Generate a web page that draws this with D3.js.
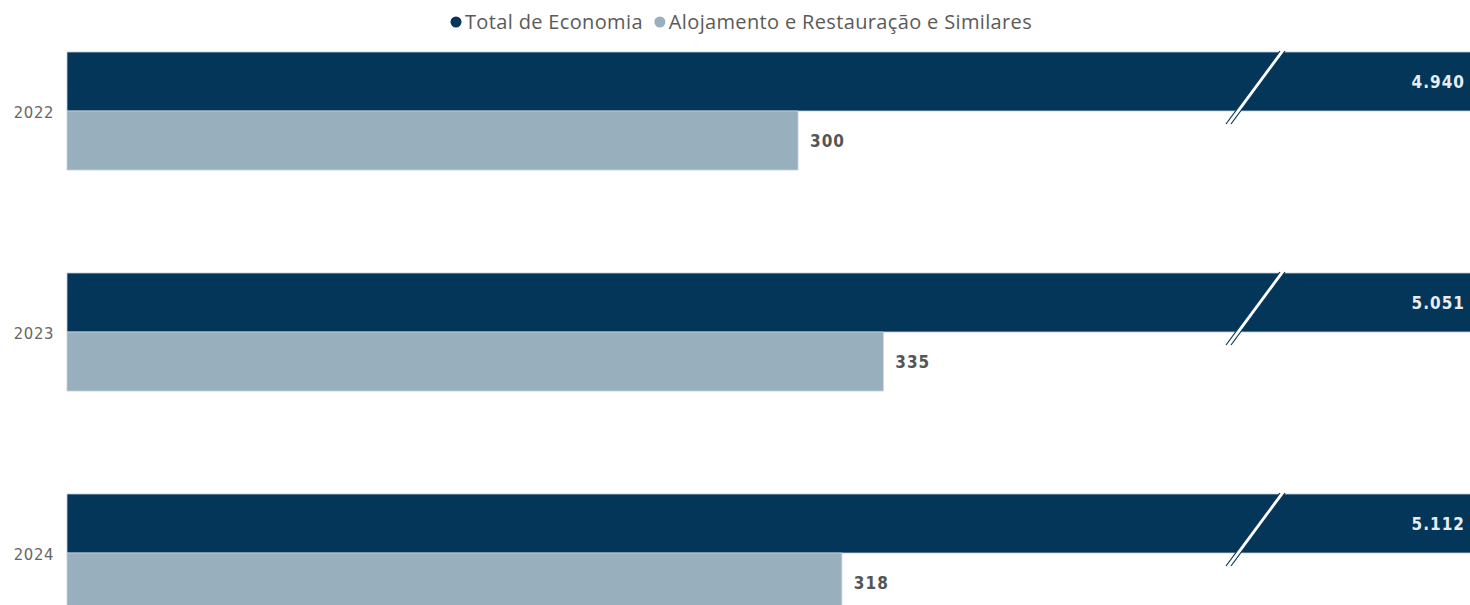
<!DOCTYPE html>
<html>
<head>
<meta charset="utf-8">
<script src="https://cdn.jsdelivr.net/npm/d3@7"></script>
<style>
  body { margin: 0; background: #fff; }
  svg { display: block; }
</style>
</head>
<body>
<div id="container"></div>
<script>
var w = 1470, h = 605,
    margin = {left: 67, top: 52},
    years = ['2022', '2023', '2024'],
    seriesNames = ['Total de Economia', 'Alojamento e Restauração e Similares'],
    totalEconomia = [4940, 5051, 5112],
    alojamento = [300, 335, 318],
    colors = ['#033659', '#98afbe'],
    breakX = 1253; // where the axis is broken

var fmt = d3.formatLocale({decimal: ',', thousands: '.', grouping: [3]}).format(',d');

var rows = years.map((y, i) => ({year: y, values: [totalEconomia[i], alojamento[i]]}));

var svg = d3.select('#container').append('svg')
    .attr('width', w)
    .attr('height', h);

/* x scale - linear from 0, dark bars are cut at the break */
var xScale = d3.scaleLinear()
    .domain([0, 300])
    .range([margin.left, 798]);

/* y scales */
var yScale = d3.scaleBand()
    .domain(years)
    .range([0.5, 663.5])
    .paddingInner(0.466)
    .paddingOuter(0.233);

var ySub = d3.scaleBand()
    .domain([0, 1])
    .range([0, yScale.bandwidth()]);

// legend
var legend = svg.append('g').attr('transform', 'translate(456,22)');
var lx = 0;
seriesNames.forEach((name, i) => {
    var g = legend.append('g').attr('transform', 'translate(' + lx + ',0)');
    g.append('circle').attr('r', 5.5).attr('cy', 0).style('fill', colors[i]);
    var t = g.append('text')
        .attr('x', 9)
        .attr('dy', '0.35em')
        .style('font-family', '"Open Sans", sans-serif')
        .style('font-size', '20px')
        .style('letter-spacing', '0.35px')
        .style('fill', '#5a5a5a')
        .text(name);
    lx += 9 + t.node().getComputedTextLength() + 17;
});

var groups = svg.selectAll('g.year').data(rows)
    .enter().append('g')
    .attr('class', 'year')
    .attr('transform', d => 'translate(0,' + yScale(d.year) + ')');

// year labels
groups.append('text')
    .attr('x', 54)
    .attr('y', yScale.bandwidth() / 2 + 1)
    .attr('dy', '0.35em')
    .attr('text-anchor', 'end')
    .style('font-family', '"DejaVu Sans Condensed", sans-serif')
    .style('font-size', '16.5px')
    .style('letter-spacing', '0.6px')
    .style('fill', '#666')
    .text(d => d.year);

// bars
groups.selectAll('rect')
    .data(d => d.values.map((v, i) => ({v: v, i: i})))
    .enter().append('rect')
    .attr('x', xScale(0))
    .attr('y', d => ySub(d.i))
    .attr('width', d => Math.min(xScale(d.v), w + 5) - xScale(0))
    .attr('height', ySub.bandwidth())
    .style('fill', d => colors[d.i])
    .style('stroke', '#c5d0d9')
    .style('stroke-width', 0.8);

// value labels
groups.selectAll('text.val')
    .data(d => d.values.map((v, i) => ({v: v, i: i})))
    .enter().append('text')
    .attr('class', 'val')
    .attr('x', d => xScale(d.v) > w ? w - 5 : xScale(d.v) + 12)
    .attr('y', d => ySub(d.i) + ySub.bandwidth() / 2 + 1)
    .attr('dy', '0.35em')
    .attr('text-anchor', d => xScale(d.v) > w ? 'end' : 'start')
    .style('font-family', '"DejaVu Sans Condensed", sans-serif')
    .style('font-weight', 'bold')
    .style('font-size', '17px')
    .style('letter-spacing', '1px')
    .style('fill', d => xScale(d.v) > w ? '#e8edf1' : '#555')
    .text(d => fmt(d.v));

// break marks on the cut bars
var bh = ySub.bandwidth();
groups.filter(d => xScale(d.values[0]) > w).each(function () {
    var g = d3.select(this);
    var y0 = -1, y1 = bh + 13, dx = 54, off = 5;
    var x1 = breakX - dx / 2, x2 = breakX + dx / 2;
    g.append('path')
        .attr('d', 'M' + x1 + ',' + y1 + 'L' + x2 + ',' + y0 + 'L' + (x2 + off) + ',' + y0 + 'L' + (x1 + off) + ',' + y1 + 'Z')
        .style('fill', '#fff');
    [0, off].forEach(o => {
        g.append('line')
            .attr('x1', x1 + o).attr('y1', y1)
            .attr('x2', x2 + o).attr('y2', y0)
            .style('stroke', colors[0])
            .style('stroke-width', 1.2);
    });
});
</script>
</body>
</html>
